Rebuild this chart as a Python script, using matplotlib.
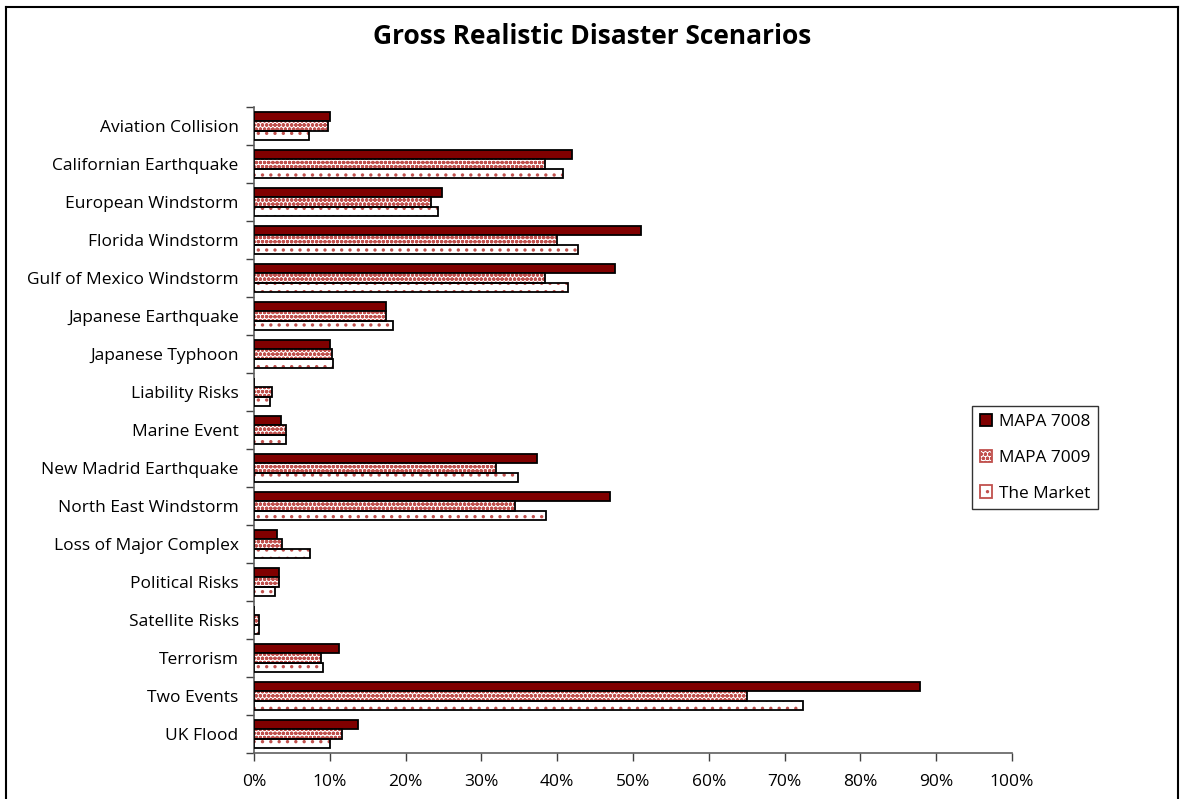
import matplotlib
matplotlib.use("Agg")
import matplotlib.pyplot as plt
from matplotlib.patches import Patch
from matplotlib.lines import Line2D
import numpy as np

categories = ["Aviation Collision", "Californian Earthquake", "European Windstorm",
              "Florida Windstorm", "Gulf of Mexico Windstorm", "Japanese Earthquake",
              "Japanese Typhoon", "Liability Risks", "Marine Event",
              "New Madrid Earthquake", "North East Windstorm", "Loss of Major Complex",
              "Political Risks", "Satellite Risks", "Terrorism", "Two Events", "UK Flood"]
mapa_7008 = [10.0, 42.0, 24.8, 51.0, 47.6, 17.4, 10.0, 0.0, 3.5, 37.4, 47.0, 3.0, 3.3, 0.0, 11.2, 87.8, 13.7]
mapa_7009 = [9.8, 38.4, 23.4, 40.0, 38.4, 17.4, 10.3, 2.4, 4.2, 31.9, 34.4, 3.7, 3.3, 0.7, 8.8, 65.0, 11.6]
the_market = [7.2, 40.7, 24.3, 42.8, 41.4, 18.3, 10.4, 2.1, 4.2, 34.8, 38.5, 7.4, 2.8, 0.7, 9.1, 72.4, 10.0]
series_names = ["MAPA 7008", "MAPA 7009", "The Market"]
xticks = list(range(0, 101, 10))
xtick_labels = [f"{v}%" for v in xticks]

plt.rcParams['font.family'] = ['Open Sans', 'DejaVu Sans']
plt.rcParams['hatch.linewidth'] = 1.2

fig = plt.figure(figsize=(11.84, 7.99), dpi=100)
ax = fig.add_axes([254/1184, 1-753/799, (1012-254)/1184, (753-107)/799])

n = len(categories)
y = np.arange(n)
h = 0.25
dark = "#800000"
dotred = "#c0504d"

ax.barh(y - h, mapa_7008, height=h, color=dark, edgecolor="black", linewidth=1.3, zorder=3)
ax.barh(y, mapa_7009, height=h, color="white", edgecolor=dotred, hatch="oooo", linewidth=0, zorder=3)
ax.barh(y, mapa_7009, height=h, fill=False, edgecolor="black", linewidth=1.3, zorder=4)
ax.barh(y + h, the_market, height=h, color="white", edgecolor=dotred, hatch="..", linewidth=0, zorder=3)
ax.barh(y + h, the_market, height=h, fill=False, edgecolor="black", linewidth=1.3, zorder=4)

ax.set_xlim(0, 100)
ax.set_ylim(n - 0.5, -0.5)
ax.set_yticks(y)
ax.set_yticklabels(categories, fontsize=12.5)
ax.set_yticks(np.arange(-0.5, n, 1), minor=True)
ax.tick_params(axis='y', which='major', length=0, pad=11)
ax.tick_params(axis='y', which='minor', length=6, width=1, color="#404040", direction='out')
ax.set_xticks(xticks)
ax.set_xticklabels(xtick_labels, fontsize=12.5)
ax.tick_params(axis='x', length=6, width=1, color="#404040", direction='out', pad=9)

for s in ["top", "right"]:
    ax.spines[s].set_visible(False)
for s in ["left", "bottom"]:
    ax.spines[s].set_color("#606060")
    ax.spines[s].set_linewidth(1.2)

handles = [
    Patch(facecolor=dark, edgecolor="black", linewidth=1.3),
    Patch(facecolor="white", edgecolor=dotred, hatch="oooo", linewidth=1.3),
    Patch(facecolor="white", edgecolor=dotred, hatch="..", linewidth=1.3),
]
leg = fig.legend(handles, series_names, loc="upper left",
                 bbox_to_anchor=(972/1184, 1-406/799), borderaxespad=0, fontsize=12.4, frameon=True,
                 fancybox=False, edgecolor="black", handlelength=0.7, handleheight=0.7,
                 handletextpad=0.4, labelspacing=1.15, borderpad=0.45)
leg.get_frame().set_linewidth(1.0)

fig.text(592/1184, 1-36/799, "Gross Realistic Disaster Scenarios", ha="center", va="center",
         fontsize=19, fontweight="bold")

# outer chart border
fig.add_artist(Line2D([6/1184, 6/1184], [0, 1-7/799], transform=fig.transFigure, color="black", lw=1.5))
fig.add_artist(Line2D([6/1184, 1178/1184], [1-7/799, 1-7/799], transform=fig.transFigure, color="black", lw=1.5))
fig.add_artist(Line2D([1178/1184, 1178/1184], [0, 1-7/799], transform=fig.transFigure, color="black", lw=1.5))

fig.savefig("out.png", dpi=100)
